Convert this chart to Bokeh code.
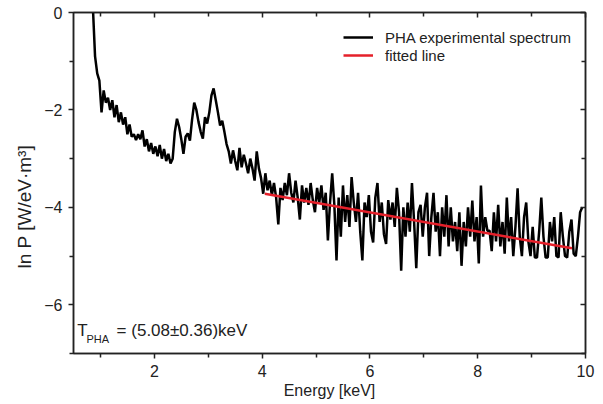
from bokeh.plotting import figure
from bokeh.models import Range1d, LinearAxis, FixedTicker, Label, Legend, LegendItem
from bokeh.embed import file_html
from bokeh.resources import INLINE

# ---- data ----
e_start = 0.86
e_step = 0.04
lnP = [
    0.1, -0.9, -1.25, -1.4, -2.05, -1.6, -1.85, -1.75, -2.0, -1.8,
    -2.15, -1.9, -2.25, -2.05, -2.3, -2.15, -2.5, -2.3, -2.55, -2.5,
    -2.62, -2.5, -2.6, -2.42, -2.75, -2.6, -2.85, -2.68, -2.9, -2.75,
    -2.95, -2.72, -3.0, -2.8, -3.05, -2.9, -3.1, -3.0, -2.45, -2.18,
    -2.35, -2.6, -2.9, -2.55, -2.48, -2.63, -2.2, -1.85, -2.0, -2.25,
    -2.45, -2.59, -2.15, -2.28, -2.05, -1.7, -1.56, -1.8, -2.05, -2.32,
    -2.22, -2.45, -2.7, -2.85, -3.1, -2.83, -3.05, -3.24, -2.78, -3.18,
    -2.92, -3.1, -3.3, -3.0, -3.2, -3.45, -2.85, -3.2, -3.4, -3.72,
    -3.3, -3.65, -3.45, -3.75, -3.5, -3.8, -4.35, -3.6, -3.85, -3.5,
    -3.75, -3.3, -3.7, -3.9, -3.45, -3.8, -4.25, -3.55, -3.9, -3.6,
    -3.95, -3.5, -3.85, -4.1, -3.6, -3.9, -3.55, -4.05, -3.7, -4.68,
    -3.9, -3.3, -3.95, -5.09, -3.8, -4.6, -3.55, -4.3, -3.75, -4.4,
    -3.38, -3.9, -4.3, -3.7, -4.5, -5.09, -3.9, -4.2, -3.75, -4.5,
    -4.72, -3.8, -3.5, -4.3, -3.9, -4.55, -4.75, -3.85, -4.25, -3.9,
    -4.4, -3.6, -4.1, -5.3, -4.0, -4.6, -3.9, -4.5, -3.5, -4.3,
    -5.25, -4.1, -3.95, -4.6, -4.0, -3.7, -5.0, -4.2, -3.7, -4.5,
    -4.1, -5.0, -4.0, -4.6, -3.75, -4.8, -4.0, -4.7, -4.3, -4.9,
    -4.1, -5.2, -4.3, -4.8, -4.0, -4.6, -3.86, -4.7, -4.2, -5.15,
    -3.55, -4.6, -4.2, -4.48, -4.48, -4.9, -4.1, -4.7, -3.95, -4.8,
    -4.3, -4.95, -3.8, -4.7, -4.2, -5.0, -4.4, -3.61, -4.6, -5.0,
    -4.2, -3.9, -4.7, -5.0, -4.4, -5.03, -5.03, -4.5, -3.8, -4.6,
    -5.03, -5.03, -4.3, -4.7, -4.2, -5.0, -5.03, -4.1, -4.6, -5.0,
    -5.03, -4.5, -4.25, -4.95, -5.0, -4.6, -4.1, -4.0,
]
energy = [round(e_start + e_step * i, 2) for i in range(len(lnP))]

fit_energy = [4.05, 9.75]
fit_lnP = [-3.72, -4.84]

x_major = [2, 4, 6, 8, 10]
x_minor = [1, 3, 5, 7, 9]
y_major = [0, -2, -4, -6]
y_minor = [-1, -3, -5, -7]

FONT = "Liberation Sans"
INK = "#222222"

# y title sits a little below the frame centre in the reference: pad its end
y_title = "ln P [W/eV·m³]" + "\u00a0" * 9

p = figure(width=603, height=404, output_backend="svg", toolbar_location=None,
           x_range=Range1d(0.5, 10), y_range=Range1d(-7, 0),
           min_border_left=73, min_border_right=18, min_border_top=12, min_border_bottom=51,
           x_axis_label="Energy [keV]", y_axis_label=y_title)
p.background_fill_color = "white"
p.border_fill_color = "white"
p.grid.visible = False
p.outline_line_color = INK
p.outline_line_width = 1.5

for ax, maj, mn in ((p.xaxis[0], x_major, x_minor), (p.yaxis[0], y_major, y_minor)):
    ax.ticker = FixedTicker(ticks=maj, minor_ticks=mn)
    ax.axis_line_color = INK
    ax.axis_line_width = 1.5
    ax.major_tick_line_color = INK
    ax.minor_tick_line_color = INK
    ax.major_tick_line_width = 1.5
    ax.minor_tick_line_width = 1.5
    ax.major_tick_out = 5
    ax.major_tick_in = 0
    ax.minor_tick_out = 4
    ax.minor_tick_in = 0
    ax.major_label_text_font = FONT
    ax.major_label_text_font_size = "16px"
    ax.major_label_text_color = INK
    ax.axis_label_text_font = FONT
    ax.axis_label_text_font_size = "16px"
    ax.axis_label_text_font_style = "normal"
    ax.axis_label_text_color = INK

p.yaxis[0].axis_label_text_font_size = "19px"
p.xaxis[0].major_label_standoff = 6
p.xaxis[0].axis_label_standoff = 2
p.yaxis[0].major_label_standoff = 6
p.yaxis[0].axis_label_standoff = 6

# mirrored axes with inward ticks
top = LinearAxis(ticker=FixedTicker(ticks=x_major, minor_ticks=x_minor))
right = LinearAxis(ticker=FixedTicker(ticks=y_major, minor_ticks=y_minor))
for ax in (top, right):
    ax.major_label_text_alpha = 0
    ax.major_label_text_font_size = "1px"
    ax.axis_line_color = INK
    ax.axis_line_width = 1.5
    ax.major_tick_line_color = INK
    ax.minor_tick_line_color = INK
    ax.major_tick_line_width = 1.5
    ax.minor_tick_line_width = 1.5
    ax.major_tick_in = 5
    ax.major_tick_out = 0
    ax.minor_tick_in = 4
    ax.minor_tick_out = 0
    ax.major_label_standoff = 0
p.add_layout(top, "above")
p.add_layout(right, "right")

r_spec = p.line(energy, lnP, line_color="black", line_width=2.5)
r_fit = p.line(fit_energy, fit_lnP, line_color="#e5202a", line_width=2.5)

legend = Legend(items=[LegendItem(label="PHA experimental spectrum", renderers=[r_spec]),
                       LegendItem(label="fitted line", renderers=[r_fit])],
                location=(266, 285))
legend.border_line_alpha = 0
legend.background_fill_alpha = 0
legend.label_text_font = FONT
legend.label_text_font_size = "15px"
legend.label_text_color = INK
legend.glyph_width = 30
legend.label_height = 18
legend.glyph_height = 18
legend.spacing = 0
legend.padding = 4
legend.margin = 0
legend.label_standoff = 12
p.add_layout(legend)

p.add_layout(Label(x=0.57, y=-6.53, text="T", text_font=FONT, text_font_size="17px",
                   text_baseline="middle", text_color=INK))
p.add_layout(Label(x=0.74, y=-6.7, text="PHA", text_font=FONT, text_font_size="11px",
                   text_baseline="middle", text_color=INK))
p.add_layout(Label(x=1.30, y=-6.53, text="= (5.08±0.36)keV", text_font=FONT,
                   text_font_size="17px", text_baseline="middle", text_color=INK))

open("out.html", "w").write(file_html(p, INLINE))
